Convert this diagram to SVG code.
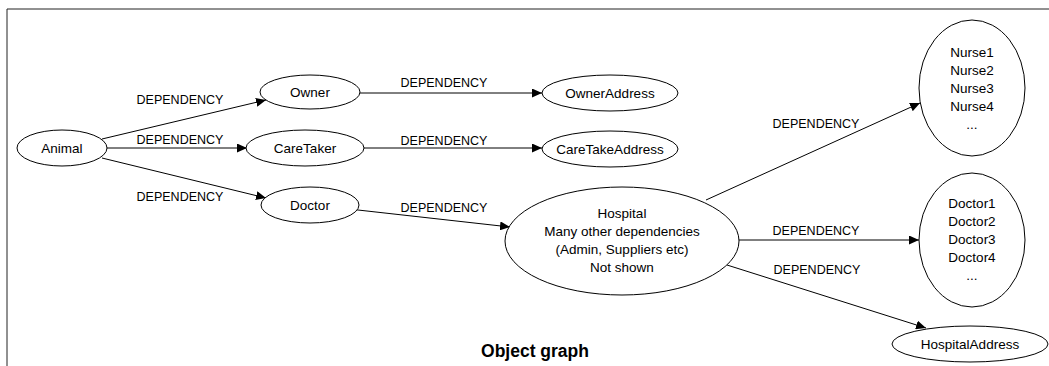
<svg xmlns="http://www.w3.org/2000/svg" width="1049" height="366" viewBox="0 0 1049 366">
<style>
.n{fill:#fff;stroke:#000;stroke-width:1}
.t{font-family:"Liberation Sans",Arial,sans-serif;font-size:13.5px;text-anchor:middle;fill:#000}
.l{font-family:"Liberation Sans",Arial,sans-serif;font-size:12.5px;text-anchor:middle;fill:#000}
.e{stroke:#000;stroke-width:1;fill:none;marker-end:url(#a)}
.ti{font-family:"Liberation Sans",Arial,sans-serif;font-size:17.5px;font-weight:bold;text-anchor:middle;fill:#000}
</style>
<defs>
<marker id="a" markerWidth="11" markerHeight="9" refX="10" refY="4.5" orient="auto" markerUnits="userSpaceOnUse">
<path d="M0,0 L10,4.5 L0,9 Z" fill="#000"/>
</marker>
</defs>
<rect width="1049" height="366" fill="#fff"/>
<path d="M7,366 V9 H1049" fill="none" stroke="#222" stroke-width="1"/>
<g id="connectors">
<line class="e" x1="102" y1="139" x2="266" y2="100"/>
<line class="e" x1="107" y1="148" x2="247" y2="148"/>
<line class="e" x1="102" y1="158" x2="266" y2="198"/>
<line class="e" x1="360" y1="93" x2="542" y2="93"/>
<line class="e" x1="364" y1="148" x2="542" y2="148"/>
<line class="e" x1="349" y1="209" x2="510" y2="227"/>
<line class="e" x1="706" y1="200" x2="920" y2="103"/>
<line class="e" x1="739" y1="240" x2="919" y2="240"/>
<line class="e" x1="727" y1="265" x2="926" y2="328"/>
<text class="l" x="180" y="104">DEPENDENCY</text>
<text class="l" x="180" y="144">DEPENDENCY</text>
<text class="l" x="180" y="201">DEPENDENCY</text>
<text class="l" x="444" y="87">DEPENDENCY</text>
<text class="l" x="444" y="145">DEPENDENCY</text>
<text class="l" x="444" y="212">DEPENDENCY</text>
<text class="l" x="816" y="128">DEPENDENCY</text>
<text class="l" x="816" y="235">DEPENDENCY</text>
<text class="l" x="817" y="274">DEPENDENCY</text>
</g>
<g id="animal"><ellipse class="n" cx="62" cy="148" rx="45" ry="18"/><text class="t" x="62" y="153">Animal</text></g>
<g id="owner"><ellipse class="n" cx="310" cy="92" rx="50" ry="17"/><text class="t" x="310" y="97">Owner</text></g>
<g id="caretaker"><ellipse class="n" cx="305" cy="148" rx="59" ry="18"/><text class="t" x="305" y="153">CareTaker</text></g>
<g id="doctor"><ellipse class="n" cx="310" cy="205" rx="49" ry="18"/><text class="t" x="310" y="210">Doctor</text></g>
<g id="owneraddress"><ellipse class="n" cx="610" cy="93" rx="68" ry="18"/><text class="t" x="610" y="98">OwnerAddress</text></g>
<g id="caretakeaddress"><ellipse class="n" cx="610" cy="149" rx="68" ry="18"/><text class="t" x="610" y="154">CareTakeAddress</text></g>
<g id="hospital"><ellipse class="n" cx="622" cy="241" rx="117" ry="54"/>
<text class="t" x="622" y="218">Hospital</text>
<text class="t" x="622" y="236">Many other dependencies</text>
<text class="t" x="622" y="254">(Admin, Suppliers etc)</text>
<text class="t" x="622" y="272">Not shown</text></g>
<g id="nurses"><ellipse class="n" cx="972" cy="88" rx="53" ry="68"/>
<text class="t" x="972" y="57">Nurse1</text>
<text class="t" x="972" y="75">Nurse2</text>
<text class="t" x="972" y="93">Nurse3</text>
<text class="t" x="972" y="111">Nurse4</text>
<text class="t" x="972" y="129">...</text></g>
<g id="doctors"><ellipse class="n" cx="972" cy="240" rx="53" ry="67"/>
<text class="t" x="972" y="208">Doctor1</text>
<text class="t" x="972" y="226">Doctor2</text>
<text class="t" x="972" y="244">Doctor3</text>
<text class="t" x="972" y="262">Doctor4</text>
<text class="t" x="972" y="280">...</text></g>
<g id="hospitaladdress"><ellipse class="n" cx="970" cy="344" rx="78" ry="18"/><text class="t" x="970" y="349">HospitalAddress</text></g>
<text class="ti" x="535" y="357">Object graph</text>
</svg>
